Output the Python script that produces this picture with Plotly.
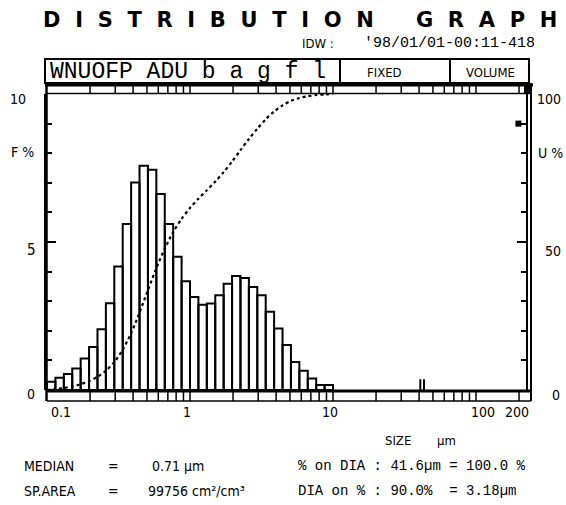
import numpy as np
import plotly.graph_objects as go

# Frequency per size class (F %), 34 log-spaced classes from 0.1 to 10 um
freq = [0.28, 0.41, 0.54, 0.73, 1.06, 1.45, 2.05, 2.93, 4.17, 5.61,
        7.01, 7.58, 7.44, 6.62, 5.61, 4.50, 3.67, 3.14, 2.88, 2.92,
        3.20, 3.59, 3.85, 3.78, 3.48, 3.20, 2.64, 2.08, 1.52, 0.95,
        0.65, 0.39, 0.17, 0.17]
size_min, size_max = 0.1, 10.0
x_ticks = [0.1, 1, 10, 100, 200]
x_tick_text = ["0.1", "1", "10", "100", "200"]
scale_ticks = [0.2, 0.3, 0.4, 0.5, 0.6, 0.7, 0.8, 0.9, 1,
               2, 3, 4, 5, 6, 7, 8, 9, 10,
               20, 30, 40, 50, 60, 70, 80, 90, 100, 200]
pct_on_dia = 41.6
dia_on_pct = 90.0

W, H = 566, 505
edges = np.logspace(np.log10(size_min), np.log10(size_max), len(freq) + 1)
cum = np.concatenate([[0], np.cumsum(freq)]) / np.sum(freq) * 100


def px(x):
    return x / W


def py(y):
    return 1 - y / H


# Outlined histogram bars as closed polygons
bx, by = [], []
for i, h in enumerate(freq):
    l, r = edges[i], edges[i + 1]
    bx += [l, l, r, r, l, None]
    by += [0, h, h, 0, 0, None]

fig = go.Figure()
fig.add_trace(go.Scatter(x=bx, y=by, mode="lines", fill="toself",
                         fillcolor="white", line=dict(color="black", width=2),
                         hoverinfo="skip", showlegend=False))
fig.add_trace(go.Scatter(x=edges, y=cum, mode="lines", yaxis="y2",
                         line=dict(color="black", width=2.2, dash="dot",
                                   shape="spline", smoothing=0.8),
                         showlegend=False))
# markers for the reported points
fig.add_trace(go.Scatter(x=[pct_on_dia * 0.98, pct_on_dia * 1.04], y=[1.5, 1.5],
                         yaxis="y2", mode="markers",
                         marker=dict(symbol="line-ns", size=9,
                                     line=dict(color="black", width=2)),
                         showlegend=False))
fig.add_trace(go.Scatter(x=[198], y=[dia_on_pct], yaxis="y2", mode="markers",
                         marker=dict(symbol="square", size=6, color="black"),
                         showlegend=False))

x_left, x_right = 47, 526
y_top, y_bot = 94, 390
x_hi = 10 ** (np.log10(size_min) + (x_right - x_left) / 143)

fig.update_layout(
    width=W, height=H, margin=dict(l=0, r=0, t=0, b=0),
    paper_bgcolor="white", plot_bgcolor="white",
    xaxis=dict(type="log", domain=[px(x_left), px(x_right)],
               range=[np.log10(size_min), np.log10(x_hi)],
               showgrid=False, zeroline=False, showticklabels=False,
               ticks="", showline=False),
    yaxis=dict(domain=[py(y_bot), py(y_top)], range=[0, 10],
               showgrid=False, zeroline=False, showticklabels=False,
               showline=True, linewidth=2.5, linecolor="black",
               ticks="inside", dtick=5, ticklen=9, tickwidth=2,
               tickcolor="black",
               minor=dict(ticks="inside", dtick=1, ticklen=5,
                          tickwidth=1.5, tickcolor="black")),
    yaxis2=dict(overlaying="y", side="right", range=[0, 100],
                showgrid=False, zeroline=False, showticklabels=False,
                showline=True, linewidth=2, linecolor="black",
                ticks="inside", dtick=50, ticklen=9, tickwidth=2,
                tickcolor="black",
                minor=dict(ticks="inside", dtick=10, ticklen=5,
                           tickwidth=1.5, tickcolor="black")),
    showlegend=False,
)

shapes = []


def hline(y, x0, x1, w):
    shapes.append(dict(type="line", xref="paper", yref="paper",
                       x0=px(x0), x1=px(x1), y0=py(y), y1=py(y),
                       line=dict(color="black", width=w)))


def vline(x, y0, y1, w):
    shapes.append(dict(type="line", xref="paper", yref="paper",
                       x0=px(x), x1=px(x), y0=py(y0), y1=py(y1),
                       line=dict(color="black", width=w)))


# header box
shapes.append(dict(type="rect", xref="paper", yref="paper",
                   x0=px(45), x1=px(529), y0=py(83), y1=py(59),
                   line=dict(color="black", width=2)))
vline(340, 59, 83, 2)
vline(450, 59, 83, 2)
# scale strips above and below the plot
hline(85, 45, 533, 3)
hline(93.5, 47, 531, 1.5)
hline(391, 47, 531, 3)
hline(401, 47, 531, 1.5)
vline(531, 83, 401, 2)
vline(46.5, 83, 401, 2.5)
for t in scale_ticks:
    shapes.append(dict(type="line", xref="x", yref="paper", x0=t, x1=t,
                       y0=py(85), y1=py(93), line=dict(color="black", width=1.5)))
    shapes.append(dict(type="line", xref="x", yref="paper", x0=t, x1=t,
                       y0=py(391), y1=py(401), line=dict(color="black", width=1.5)))
shapes.append(dict(type="rect", xref="paper", yref="paper",
                   x0=px(524), x1=px(532), y0=py(94), y1=py(84),
                   fillcolor="black", line=dict(width=0)))
fig.update_layout(shapes=shapes)

mono = "Liberation Mono, DejaVu Sans Mono, monospace"
narrow = "Liberation Sans Narrow, DejaVu Sans Condensed, Liberation Sans, sans-serif"
ann = []


def text(x, y, s, size=13, font=narrow, anchor="center", color="black"):
    ann.append(dict(xref="paper", yref="paper", x=px(x), y=py(y), text=s,
                    showarrow=False, xanchor=anchor, yanchor="middle",
                    font=dict(family=font, size=size, color=color)))


sp = "\u2002\u2009"
title = sp.join("DISTRIBUTION") + "\u2003\u2003" + sp.join("GRAPH")
text(300, 20, "<b>" + title + "</b>", size=21, font="DejaVu Sans, sans-serif")
text(318, 44, "IDW :", size=13)
text(449, 44, "'98/01/01-00:11-418", size=15, font=mono)
text(48, 72, "WNUOFP ADU b a g f l", size=23, font=mono, anchor="left")
text(385, 72, "FIXED", size=13)
text(491, 72, "VOLUME", size=13)

# axis labels
text(18, 99, "10", size=14)
text(22, 152, "F %", size=14)
text(31, 250, "5", size=15)
text(31, 394, "0", size=14)
text(549, 99, "100", size=14)
text(550, 153, "U %", size=14)
text(553, 251, "50", size=14)
text(556, 395, "0", size=14)
for v, s, dx in zip(x_ticks, x_tick_text, [14, -3, -3, 7, -2]):
    ann.append(dict(xref="x", yref="paper", x=np.log10(v), y=py(412), text=s,
                    showarrow=False, xanchor="center", yanchor="middle",
                    xshift=dx, font=dict(family=narrow, size=14, color="black")))
text(398, 440, "SIZE", size=13)
text(446, 440, "µm", size=13)

# summary statistics
text(22, 466, "MEDIAN", size=14, anchor="left")
text(113, 466, "=", size=14)
text(150, 466, "0.71 µm", size=14, anchor="left")
text(22, 491, "SP.AREA", size=14, anchor="left")
text(113, 491, "=", size=14)
text(146, 491, "99756 cm²/cm³", size=14, anchor="left")
text(296, 466, "% on DIA : 41.6µm = 100.0 %", size=14, font=mono, anchor="left")
text(296, 491, "DIA on % : 90.0%  = 3.18µm", size=14, font=mono, anchor="left")
fig.update_layout(annotations=ann)

fig.write_html("out.html")
